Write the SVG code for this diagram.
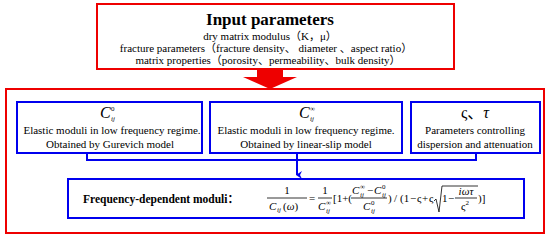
<svg xmlns="http://www.w3.org/2000/svg" width="550" height="239" viewBox="0 0 550 239">
<defs>
<style>
.red{fill:none;stroke:#ee0000;stroke-width:2}
.blue{fill:none;stroke:#0000ee;stroke-width:2}
text{font-family:"Liberation Serif","Noto Sans CJK SC",serif;fill:#000}
.t{font-size:11px}
.c{text-anchor:middle}
.b{font-weight:bold}
.i{font-style:italic}
.m{font-size:11px}
.s{font-size:7px}
.conn{fill:none;stroke:#0000ee;stroke-width:2}
</style>
<marker id="ah" markerWidth="8" markerHeight="8" refX="4" refY="6" orient="auto-start-reverse" markerUnits="userSpaceOnUse" viewBox="0 0 8 8">
<path d="M0,1 L4,7 L8,1 L4,3 Z" fill="#0000ee"/>
</marker>
</defs>
<g id="input">
<rect class="red" x="97" y="4" width="357" height="65"/>
<text class="b c" x="270" y="25" font-size="17">Input parameters</text>
<text class="t c" x="270" y="40">dry matrix modulus（K，μ）</text>
<text class="t c" x="266" y="52">fracture parameters（fracture density、 diameter 、aspect ratio）</text>
<text class="t c" x="268" y="64">matrix properties（porosity、permeability、bulk density）</text>
</g>
<g id="bigarrow">
<polygon points="257,70 283,70 283,77 297,77 270,89 243,77 257,77" fill="#ee0000"/>
</g>
<g id="outer">
<rect class="red" x="6" y="89" width="538" height="144"/>
</g>
<g id="c0">
<rect class="blue" x="17" y="102" width="185" height="51"/>
<text class="i" x="100" y="118" font-size="16">C</text>
<text class="i s" x="111" y="121" font-size="8">ij</text>
<text class="s" x="111" y="111" font-size="8">0</text>
<text class="t c" x="112" y="134">Elastic moduli in low frequency regime.</text>
<text class="t c" x="110" y="148">Obtained by Gurevich model</text>
</g>
<g id="cinf">
<rect class="blue" x="210" y="102" width="192" height="51"/>
<text class="i" x="299" y="118" font-size="16">C</text>
<text class="i s" x="310" y="121" font-size="8">ij</text>
<text class="s" x="310" y="111" font-size="8">∞</text>
<text class="t c" x="306" y="134">Elastic moduli in low frequency regime.</text>
<text class="t c" x="306" y="148">Obtained by linear-slip model</text>
</g>
<g id="params">
<rect class="blue" x="411" y="102" width="129" height="51"/>
<text class="c" x="475" y="118" font-size="16">ς、<tspan class="i">τ</tspan></text>
<text class="t c" x="475" y="134">Parameters controlling</text>
<text class="t c" x="475" y="148">dispersion and attenuation</text>
</g>
<g id="connectors">
<polyline class="conn" points="87,153 87,160 476,160 476,153"/>
<line class="conn" x1="297" y1="153" x2="297" y2="175" marker-end="url(#ah)"/>
</g>
<g id="result">
<rect class="blue" x="68" y="179" width="456" height="39"/>
<text class="b" x="83" y="203" font-size="11.5">Frequency-dependent moduli：</text>
<g id="formula">
<line x1="267" y1="198" x2="307" y2="198" stroke="#000" stroke-width="0.8"/>
<text class="m c" x="287" y="194">1</text>
<text class="m i" x="269" y="210">C</text>
<text class="s i" x="277" y="212">ij</text>
<text class="m" x="283" y="210">(<tspan class="i">ω</tspan>)</text>
<text class="m c" x="312" y="202">=</text>
<line x1="318" y1="198" x2="332" y2="198" stroke="#000" stroke-width="0.8"/>
<text class="m c" x="325" y="194">1</text>
<text class="m i" x="318" y="210">C</text>
<text class="s" x="326" y="205">∞</text>
<text class="s i" x="326" y="213">ij</text>
<text class="m" x="333" y="202">[1+(</text>
<line x1="351" y1="198" x2="387" y2="198" stroke="#000" stroke-width="0.8"/>
<text class="m i" x="352" y="194">C</text>
<text class="s" x="360" y="189">∞</text>
<text class="s i" x="360" y="197">ij</text>
<text class="m" x="367" y="194">−</text>
<text class="m i" x="374" y="194">C</text>
<text class="s" x="382" y="189">0</text>
<text class="s i" x="382" y="197">ij</text>
<text class="m i" x="363" y="210">C</text>
<text class="s" x="371" y="205">0</text>
<text class="s i" x="371" y="213">ij</text>
<text class="m" x="388" y="202">)</text>
<text class="m" x="394" y="202">/</text>
<text class="m" x="400" y="202">(1</text>
<text class="m" x="410" y="202">−</text>
<text class="m" x="417" y="202">ς</text>
<text class="m" x="422" y="202">+</text>
<text class="m" x="429" y="202">ς</text>
<path d="M434,201 L436,199 L439,212 L442,186 L478,186" fill="none" stroke="#000" stroke-width="0.8"/>
<text class="m" x="442" y="202">1</text>
<text class="m" x="448" y="202">−</text>
<line x1="455" y1="198" x2="477" y2="198" stroke="#000" stroke-width="0.8"/>
<text class="m i c" x="466" y="195">iωτ</text>
<text class="m c" x="465" y="210">ς<tspan class="s" dy="-5">2</tspan></text>
<text class="m" x="478" y="202">)]</text>
</g>
</g>
</svg>
